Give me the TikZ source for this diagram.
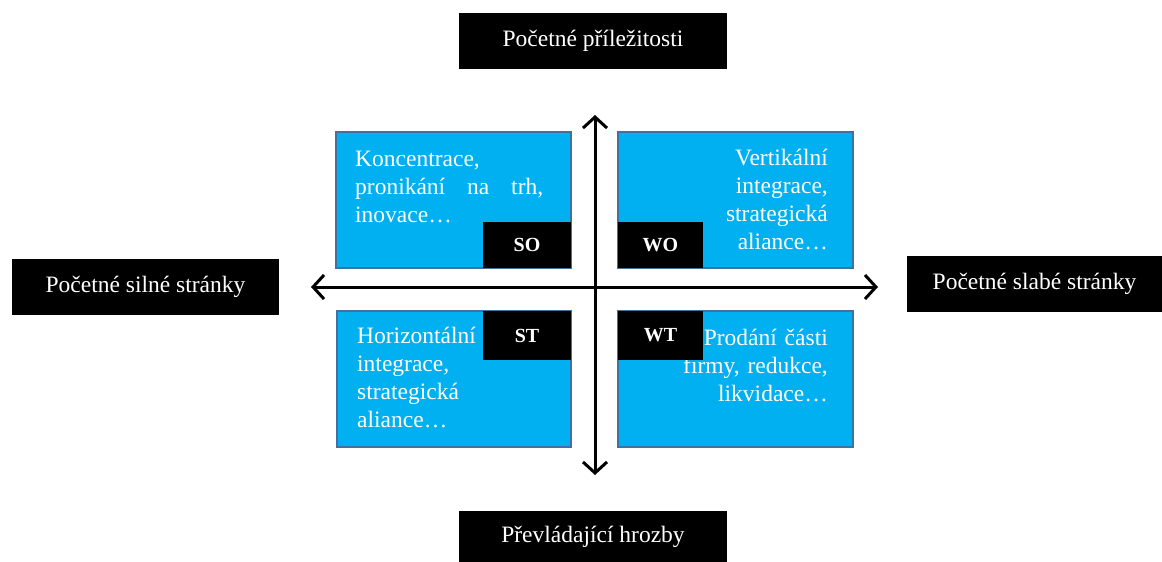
\documentclass[tikz,border=0pt]{standalone}
\usepackage{fontspec}
\setmainfont{Liberation Serif}
\usetikzlibrary{arrows.meta}
\definecolor{quad}{HTML}{00B0F0}
\definecolor{quadedge}{HTML}{41719C}
\begin{document}
\begin{tikzpicture}[x=1pt,y=-1pt,
  quadbox/.style={draw=quadedge, fill=quad, line width=1.5pt, inner sep=0pt},
  tag/.style={fill=black, text=white, font=\fontsize{20}{24}\selectfont\bfseries, inner sep=0pt},
  sidebox/.style={fill=black, text=white, font=\fontsize{23.5}{28}\selectfont, inner sep=0pt},
  qtext/.style={text=white, font=\fontsize{23.5}{28}\selectfont, inner sep=0pt},
  axis/.style={line width=3pt, {Straight Barb[length=11pt,width=24pt]}-{Straight Barb[length=11pt,width=24pt]}}
]
\useasboundingbox (0,0) rectangle (1162,562);
% side boxes
\node[sidebox, minimum width=268pt, minimum height=56pt] (opp) at (593,41) {Početné příležitosti};
\node[sidebox, minimum width=268pt, minimum height=51pt] (thr) at (593,536.5) {Převládající hrozby};
\node[sidebox, minimum width=267pt, minimum height=56pt] (str) at (145.5,287) {Početné silné stránky};
\node[sidebox, minimum width=255pt, minimum height=56pt] (wea) at (1034.5,284) {Početné slabé stránky};
% quadrants
\node[quadbox, minimum width=235pt, minimum height=136pt] (so) at (453.5,200) {};
\node[quadbox, minimum width=235pt, minimum height=136pt] (wo) at (735.5,200) {};
\node[quadbox, minimum width=234pt, minimum height=136pt] (st) at (454,379) {};
\node[quadbox, minimum width=235pt, minimum height=136pt] (wt) at (735.5,379) {};
% quadrant texts
\node[qtext, align=left, anchor=base west, text width=188pt] (sot) at (355,166) {Koncentrace,\\ pronikání\hfill na\hfill trh,\\ inovace…};
\node[qtext, align=right, anchor=base east, text width=200pt] (wot) at (828,165) {Vertikální\\ integrace,\\ strategická\\ aliance…};
\node[qtext, align=left, anchor=base west, text width=200pt] (stt) at (357,343) {Horizontální\\ integrace,\\ strategická\\ aliance…};
\node[qtext, align=right, anchor=base east, text width=200pt] (wtt) at (828,345) {Prodání části\\ firmy, redukce,\\ likvidace…};
% tags
\node[tag, minimum width=88pt, minimum height=46pt] (sotag) at (527,245) {SO};
\node[tag, minimum width=85pt, minimum height=46pt] (wotag) at (660.5,245) {WO};
\node[tag, minimum width=88pt, minimum height=49pt] (sttag) at (527,335.5) {ST};
\node[tag, minimum width=85pt, minimum height=49pt] (wttag) at (660.5,335.5) {WT};
% axes
\coordinate (up) at (595,115);
\coordinate (down) at (595,475);
\coordinate (left) at (311,287);
\coordinate (right) at (878,287);
\draw[axis] (up) -- (down);
\draw[axis] (left) -- (right);
\end{tikzpicture}
\end{document}
